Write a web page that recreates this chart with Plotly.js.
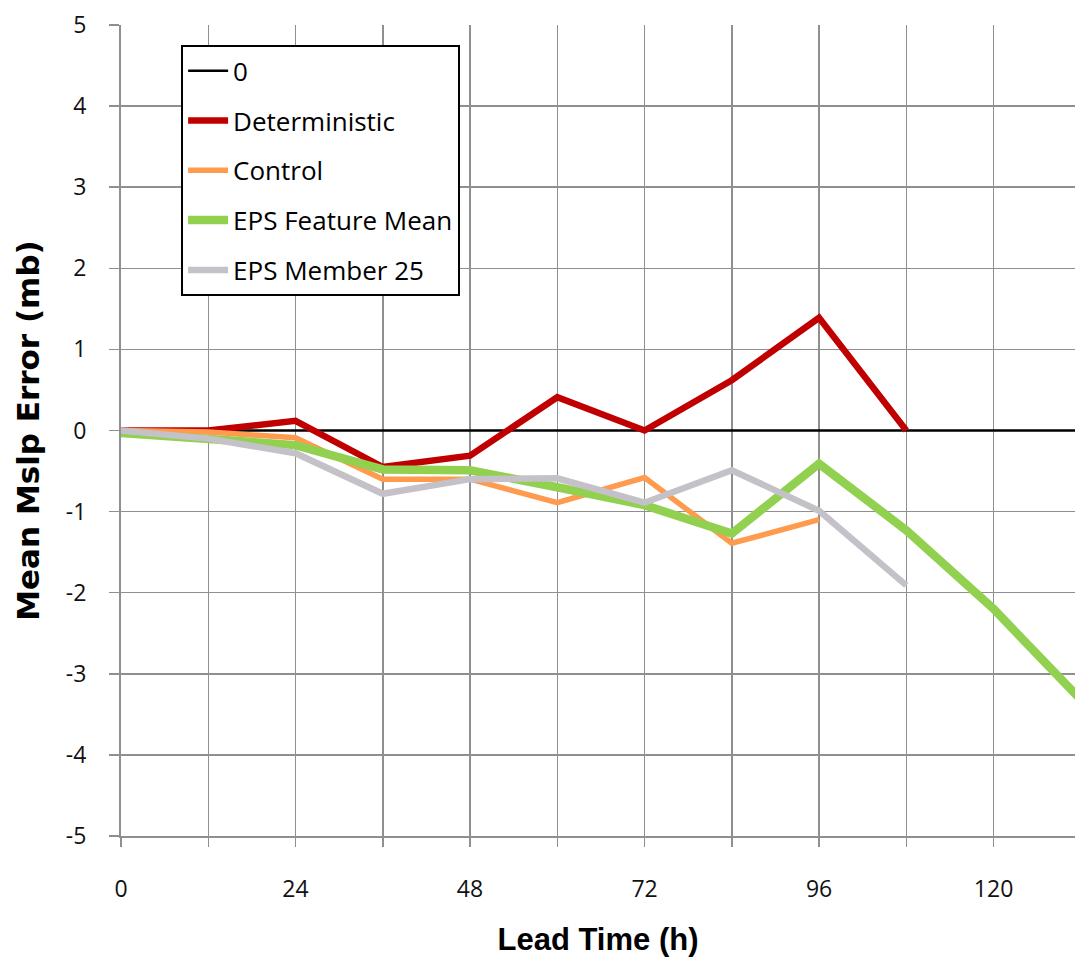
<!DOCTYPE html>
<html>
<head>
<meta charset="utf-8">
<script src="https://cdn.plot.ly/plotly-3.0.1.min.js"></script>
<style>html,body{margin:0;padding:0;background:#fff;}#chart{width:1075px;height:962px;}</style>
</head>
<body>
<div id="chart"></div>
<script>
// Lead times (h)
const hours = [0, 12, 24, 36, 48, 60, 72, 84, 96, 108, 120, 132];
const zeroRef = [0, 0, 0, 0, 0, 0, 0, 0, 0, 0, 0, 0];
const deterministic = [0, 0, 0.12, -0.45, -0.31, 0.41, 0, 0.62, 1.39, 0];
const control = [0, -0.02, -0.09, -0.6, -0.6, -0.89, -0.58, -1.39, -1.1];
const epsFeatureMean = [-0.03, -0.1, -0.18, -0.48, -0.49, -0.7, -0.92, -1.27, -0.41, -1.23, -2.2, -3.32];
const epsMember25 = [0, -0.1, -0.28, -0.78, -0.6, -0.59, -0.89, -0.49, -0.99, -1.91];
const xTickLabels = ['0', '', '24', '', '48', '', '72', '', '96', '', '120', ''];
const yTickVals = [-5, -4, -3, -2, -1, 0, 1, 2, 3, 4, 5];
const yTickLabels = ['-5', '-4', '-3', '-2', '-1', '0', '1', '2', '3', '4', '5'];

const baseFont = '"Open Sans", Lato, sans-serif';

const traces = [
  {name: '0', x: hours, y: zeroRef, line: {color: '#000000', width: 2.5}},
  {name: 'Deterministic', x: hours.slice(0, deterministic.length), y: deterministic, line: {color: '#C00000', width: 6.5}},
  {name: 'Control', x: hours.slice(0, control.length), y: control, line: {color: '#FF9B4E', width: 5.5}},
  {name: 'EPS Feature Mean', x: hours.slice(0, epsFeatureMean.length), y: epsFeatureMean, line: {color: '#92D050', width: 8.5}},
  {name: 'EPS Member 25', x: hours.slice(0, epsMember25.length), y: epsMember25, line: {color: '#C4C1C9', width: 6.5}}
].map((t, i) => Object.assign({type: 'scatter', mode: 'lines', legendgroup: 'g' + i, hoverinfo: 'skip'}, t));

const layout = {
  width: 1075, height: 962,
  margin: {l: 121, r: 0, t: 25, b: 126},
  paper_bgcolor: '#ffffff', plot_bgcolor: '#ffffff',
  showlegend: true,
  legend: {
    x: 0.063, y: 0.975, xanchor: 'left', yanchor: 'top',
    bgcolor: '#ffffff', bordercolor: '#000000', borderwidth: 2,
    font: {family: baseFont, size: 26, color: '#000'},
    tracegroupgap: 13, traceorder: 'grouped', itemwidth: 40
  },
  xaxis: {
    range: [0, 131.2], tickmode: 'array', tickvals: hours, ticktext: xTickLabels,
    showgrid: true, gridcolor: '#8f8f8f', gridwidth: 1.5,
    showline: true, linecolor: '#8f8f8f', linewidth: 2,
    ticks: 'outside', ticklen: 9, tickcolor: '#8f8f8f', tickwidth: 1.5,
    zeroline: false, ticklabelstandoff: 22,
    tickfont: {family: baseFont, size: 23, color: '#111'},
    title: {text: 'Lead Time (h)', font: {family: '"Liberation Sans", Arial, sans-serif', size: 31, color: '#000', weight: 'bold'}, standoff: 26}
  },
  yaxis: {
    range: [-5, 5], tickmode: 'array', tickvals: yTickVals, ticktext: yTickLabels,
    showgrid: true, gridcolor: '#8f8f8f', gridwidth: 1.5,
    showline: true, linecolor: '#8f8f8f', linewidth: 2,
    ticks: 'outside', ticklen: 10, tickcolor: '#8f8f8f', tickwidth: 1.5,
    zeroline: false, ticklabelstandoff: 18,
    tickfont: {family: baseFont, size: 23, color: '#111'},
    title: {text: 'Mean Mslp Error (mb)', font: {family: '"DejaVu Sans", Verdana, sans-serif', size: 31, color: '#000', weight: 'bold'}, standoff: 17}
  }
};

Plotly.newPlot('chart', traces, layout, {displayModeBar: false, staticPlot: true});
</script>
</body>
</html>
